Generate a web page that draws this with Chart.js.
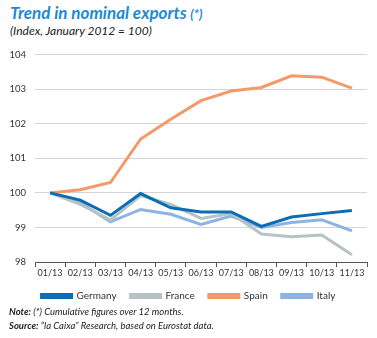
<!DOCTYPE html>
<html>
<head>
<meta charset="utf-8">
<script src="https://cdn.jsdelivr.net/npm/chart.js@4"></script>
<style>
  body { margin: 0; background: #fff; font-family: Lato, sans-serif; }
  #wrap { position: relative; width: 377px; height: 338px; overflow: hidden; }
  #title { position: absolute; left: 10px; top: 2px; color: #1d8ad4; font-weight: bold; font-style: italic; font-size: 17px; }
  #title small { font-size: 13px; }
  #sub { position: absolute; left: 10px; top: 23px; color: #222; font-style: italic; font-size: 12px; }
  #box { position: absolute; left: 10px; top: 40px; width: 377px; height: 271px; }
  #notes { position: absolute; left: 9px; top: 305px; color: #222; font-style: italic; font-size: 9.5px; line-height: 14px; }
</style>
</head>
<body>
<div id="wrap">
  <div id="title">Trend in nominal exports <small>(*)</small></div>
  <div id="sub">(Index, January 2012 = 100)</div>
  <div id="box"><canvas id="myChart"></canvas></div>
  <div id="notes">
    <b>Note:</b> (*) Cumulative figures over 12 months.<br>
    <b>Source:</b> “la Caixa” Research, based on Eurostat data.
  </div>
</div>
<script>
var months = ['01/13', '02/13', '03/13', '04/13', '05/13', '06/13', '07/13', '08/13', '09/13', '10/13', '11/13']
var germany = [100, 99.79, 99.35, 99.98, 99.57, 99.45, 99.45, 99.03, 99.30, 99.40, 99.49]
var france = [100, 99.67, 99.22, 99.92, 99.67, 99.26, 99.40, 98.81, 98.73, 98.78, 98.21]
var spain = [100, 100.09, 100.30, 101.56, 102.13, 102.67, 102.95, 103.05, 103.39, 103.35, 103.03]
var italy = [100, 99.72, 99.16, 99.52, 99.38, 99.09, 99.33, 99.00, 99.14, 99.22, 98.90]
var yTicks = [98, 99, 100, 101, 102, 103, 104]

function series(label, data, color){
    return {
        label: label,
        data: data,
        borderColor: color,
        backgroundColor: color,
        borderWidth: 3,
        pointRadius: 0,
        tension: 0,
        fill: false
    }
}

// canvas starts at x=10 and runs past the right edge, so the plot sits at 35..367
// and the bottom legend ends up centred about where the original has it
var ctx = document.querySelector("#myChart").getContext("2d")
var myChart = new Chart(ctx, {
    type: "line",
    data: {
        labels: months,
        datasets: [
            series('Germany', germany, '#0b6db3'),
            series('France', france, '#b6c2c3'),
            series('Spain', spain, '#f4996b'),
            series('Italy', italy, '#8db3e3')
        ]
    },
    options: {
        responsive: true,
        maintainAspectRatio: false,
        animation: false,
        layout: { padding: { left: 0, right: 20, top: 13, bottom: 0 } },
        plugins: {
            tooltip: { enabled: false },
            legend: {
                position: 'bottom',
                labels: {
                    boxWidth: 30,
                    boxHeight: 3,
                    padding: 14,
                    color: '#333',
                    font: { family: 'Lato', size: 10 }
                }
            }
        },
        scales: {
            x: {
                offset: true,
                // squeeze the axis box so the legend sits closer, labels still draw below it
                afterFit: function(scale){ scale.height = 15 },
                grid: { drawOnChartArea: false, drawTicks: true, tickLength: 5, offset: true, color: '#555' },
                border: { display: true, color: '#555', width: 1 },
                ticks: { color: '#333', font: { family: 'Lato', size: 9 }, padding: 1, maxRotation: 0, autoSkip: false }
            },
            y: {
                min: 98,
                max: 104,
                afterFit: function(scale){ scale.width = 25 },
                afterBuildTicks: function(scale){ scale.ticks = yTicks.map(function(v){ return { value: v } }) },
                grid: { color: '#d4d4d4', drawTicks: false, lineWidth: 1 },
                border: { display: false },
                ticks: { color: '#333', font: { family: 'Lato', size: 9.5 }, padding: 9 }
            }
        }
    }
})
</script>
</body>
</html>
